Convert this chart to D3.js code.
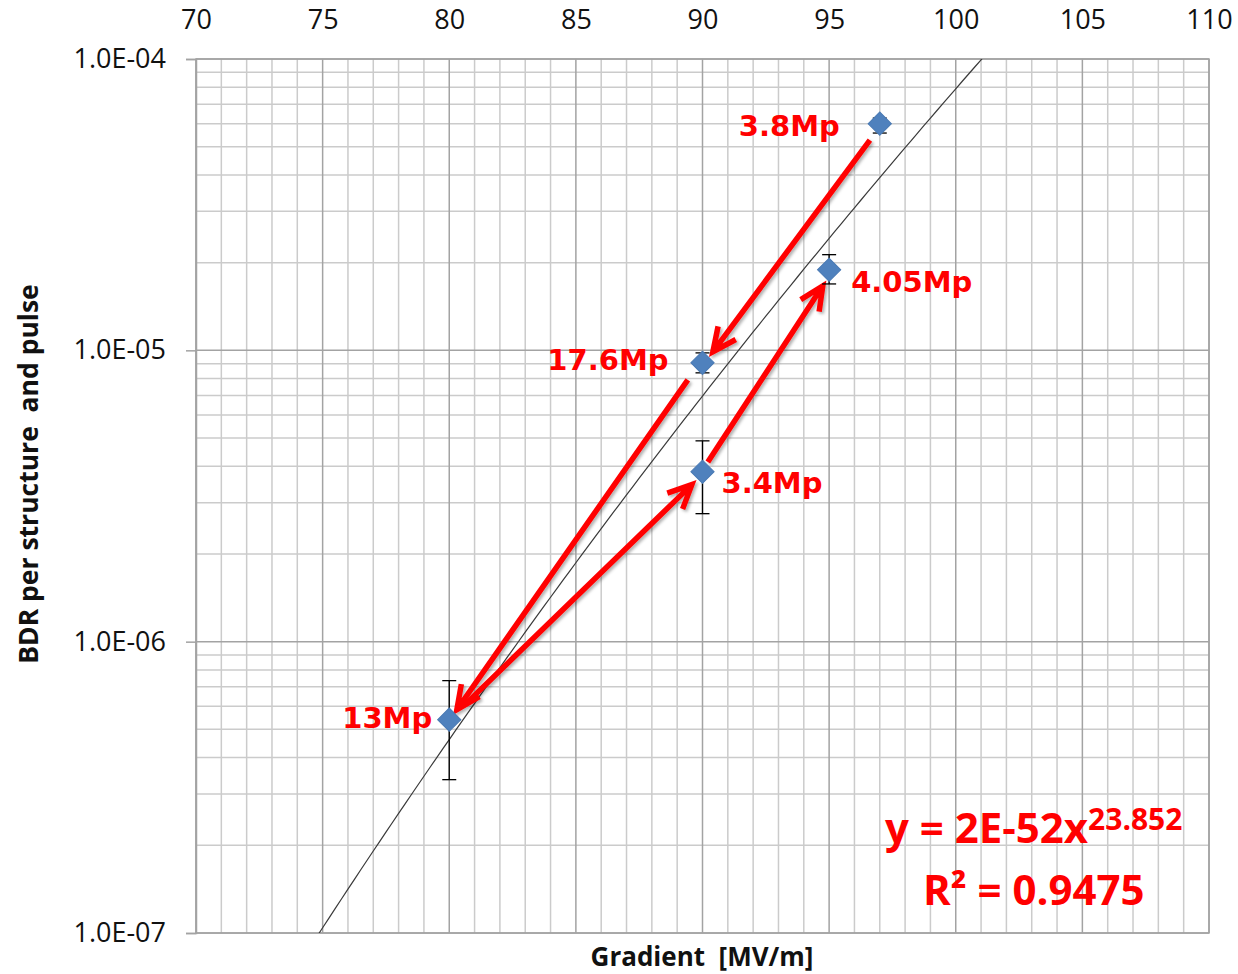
<!DOCTYPE html>
<html>
<head>
<meta charset="utf-8">
<script src="https://cdn.jsdelivr.net/npm/d3@7"></script>
<style>
  body { margin: 0; background: #fff; }
  svg { display: block; }
</style>
</head>
<body>
<svg id="chart" width="1238" height="974"></svg>
<script>
// Breakdown rate per structure and pulse vs accelerating gradient
const gradient    = [97, 95, 90, 90, 80];
const bdr         = [6.0e-5, 1.89e-5, 9.06e-6, 3.83e-6, 5.4e-7];
const bdrLow      = [5.57e-5, 1.69e-5, 8.37e-6, 2.75e-6, 3.36e-7];
const bdrHigh     = [6.27e-5, 2.13e-5, 9.8e-6, 4.89e-6, 7.35e-7];
const pulseLabels = ["3.8Mp", "4.05Mp", "17.6Mp", "3.4Mp", "13Mp"];

// Conditioning sequence arrows (gradient, BDR) from -> to
const arrowFromX = [96.61, 89.42, 80.62, 90.21];
const arrowFromY = [5.27e-5, 7.92e-6, 6.08e-7, 4.14e-6];
const arrowToX   = [90.41, 80.30, 89.58, 94.75];
const arrowToY   = [9.88e-6, 5.84e-7, 3.46e-6, 1.665e-5];

const xTicks      = [70, 75, 80, 85, 90, 95, 100, 105, 110];
const yTicks      = [1e-7, 1e-6, 1e-5, 1e-4];
const yTickLabels = ["1.0E-07", "1.0E-06", "1.0E-05", "1.0E-04"];

const fitEquation = "y = 2E-52x";
const fitExponent = "23.852";
const fitR2       = "R² = 0.9475";

const xTitle = "Gradient  [MV/m]";
const yTitle = "BDR per structure  and pulse";

// ---- layout ----
const plot = { left: 196, right: 1209, top: 59, bottom: 933 };
const svg = d3.select("#chart");

const x = d3.scaleLinear().domain([70, 110]).range([plot.left, plot.right]);
const y = d3.scaleLog().domain([1e-7, 1e-4]).range([plot.bottom, plot.top]);

svg.append("rect").attr("width", 1238).attr("height", 974).attr("fill", "#fff");

const defs = svg.append("defs");
defs.append("clipPath").attr("id", "plotClip")
  .append("rect")
  .attr("x", plot.left).attr("y", plot.top)
  .attr("width", plot.right - plot.left).attr("height", plot.bottom - plot.top);

const shadow = defs.append("filter").attr("id", "softShadow")
  .attr("x", "-20%").attr("y", "-20%").attr("width", "140%").attr("height", "140%");
shadow.append("feDropShadow")
  .attr("dx", 2).attr("dy", 2).attr("stdDeviation", 1.6)
  .attr("flood-color", "#000").attr("flood-opacity", 0.3);

// ---- grid ----
const grid = svg.append("g");
const minorX = d3.range(71, 110).filter(v => v % 5 !== 0);
const majorX = xTicks;
const minorY = [];
for (let e = -7; e < -4; e++) for (let m = 2; m <= 9; m++) minorY.push(m * Math.pow(10, e));

grid.selectAll("line.mx").data(minorX).join("line")
  .attr("x1", d => x(d)).attr("x2", d => x(d))
  .attr("y1", plot.top).attr("y2", plot.bottom)
  .attr("stroke", "#cbcbcb").attr("stroke-width", 1.5);
grid.selectAll("line.my").data(minorY).join("line")
  .attr("x1", plot.left).attr("x2", plot.right)
  .attr("y1", d => y(d)).attr("y2", d => y(d))
  .attr("stroke", "#cbcbcb").attr("stroke-width", 1.5);
grid.selectAll("line.Mx").data(majorX).join("line")
  .attr("x1", d => x(d)).attr("x2", d => x(d))
  .attr("y1", plot.top).attr("y2", plot.bottom)
  .attr("stroke", "#a3a3a3").attr("stroke-width", 1.5);
grid.selectAll("line.My").data(yTicks).join("line")
  .attr("x1", plot.left).attr("x2", plot.right)
  .attr("y1", d => y(d)).attr("y2", d => y(d))
  .attr("stroke", "#a3a3a3").attr("stroke-width", 1.5);

svg.append("rect")
  .attr("x", plot.left).attr("y", plot.top)
  .attr("width", plot.right - plot.left).attr("height", plot.bottom - plot.top)
  .attr("fill", "none").attr("stroke", "#a3a3a3").attr("stroke-width", 1.5);

// ---- axes ----
const xAxis = svg.append("g")
  .attr("transform", `translate(0,${plot.top})`)
  .call(d3.axisTop(x).tickValues(xTicks).tickSize(0).tickPadding(30).tickFormat(d3.format("d")));
xAxis.select(".domain").remove();
xAxis.selectAll("text")
  .attr("font-family", "'Open Sans', sans-serif").attr("font-size", 27).attr("fill", "#111");

const yAxis = svg.append("g")
  .attr("transform", `translate(${plot.left},0)`)
  .call(d3.axisLeft(y).tickValues(yTicks).tickSize(10).tickPadding(20)
    .tickFormat((d, i) => yTickLabels[i]));
yAxis.select(".domain").attr("stroke", "#a3a3a3").attr("stroke-width", 1.5);
yAxis.selectAll(".tick line").attr("stroke", "#a3a3a3").attr("stroke-width", 1.5);
yAxis.selectAll("text")
  .attr("font-family", "'Open Sans', sans-serif").attr("font-size", 27).attr("fill", "#111");

svg.append("text")
  .attr("x", 702).attr("y", 966).attr("text-anchor", "middle")
  .attr("font-family", "'Open Sans', sans-serif").attr("font-weight", 700)
  .attr("font-size", 26).attr("fill", "#111")
  .style("white-space", "pre").attr("xml:space", "preserve")
  .text(xTitle);

svg.append("text")
  .attr("transform", "translate(38,474) rotate(-90)")
  .attr("text-anchor", "middle")
  .attr("font-family", "'Open Sans', sans-serif").attr("font-weight", 700)
  .attr("font-size", 26.5).attr("fill", "#111")
  .style("white-space", "pre").attr("xml:space", "preserve")
  .text(yTitle);

// ---- power-law trend line (least squares in log-log space) ----
const lx = gradient.map(Math.log10), ly = bdr.map(Math.log10);
const mx = d3.mean(lx), my = d3.mean(ly);
const slope = d3.sum(lx, (v, i) => (v - mx) * (ly[i] - my)) / d3.sum(lx, v => (v - mx) ** 2);
const intercept = my - slope * mx;
const trend = d3.range(70, 110.001, 0.25).map(g => [g, Math.pow(10, intercept + slope * Math.log10(g))]);

svg.append("path")
  .datum(trend)
  .attr("clip-path", "url(#plotClip)")
  .attr("fill", "none").attr("stroke", "#3a3a3a").attr("stroke-width", 1.2)
  .attr("d", d3.line().x(d => x(d[0])).y(d => y(d[1])));

// ---- conditioning arrows ----
function arrowPath(x1, y1, x2, y2) {
  const a = Math.atan2(y2 - y1, x2 - x1);
  const L = 26, w = 25 * Math.PI / 180;
  const p1 = [x2 - L * Math.cos(a - w), y2 - L * Math.sin(a - w)];
  const p2 = [x2 - L * Math.cos(a + w), y2 - L * Math.sin(a + w)];
  return `M${x1},${y1}L${x2},${y2}M${p1[0]},${p1[1]}L${x2},${y2}L${p2[0]},${p2[1]}`;
}
svg.append("g").attr("filter", "url(#softShadow)")
  .selectAll("path").data(arrowFromX).join("path")
  .attr("d", (d, i) => arrowPath(x(arrowFromX[i]), y(arrowFromY[i]), x(arrowToX[i]), y(arrowToY[i])))
  .attr("fill", "none").attr("stroke", "#ff0000").attr("stroke-width", 5.5)
  .attr("stroke-linejoin", "miter").attr("stroke-linecap", "butt");

// ---- error bars ----
const capHalf = 7;
const eb = svg.append("g").attr("stroke", "#000").attr("stroke-width", 1.3);
eb.selectAll("line.v").data(gradient).join("line")
  .attr("x1", d => x(d)).attr("x2", d => x(d))
  .attr("y1", (d, i) => y(bdrLow[i])).attr("y2", (d, i) => y(bdrHigh[i]));
eb.selectAll("line.lo").data(gradient).join("line")
  .attr("x1", d => x(d) - capHalf).attr("x2", d => x(d) + capHalf)
  .attr("y1", (d, i) => y(bdrLow[i])).attr("y2", (d, i) => y(bdrLow[i]));
eb.selectAll("line.hi").data(gradient).join("line")
  .attr("x1", d => x(d) - capHalf).attr("x2", d => x(d) + capHalf)
  .attr("y1", (d, i) => y(bdrHigh[i])).attr("y2", (d, i) => y(bdrHigh[i]));

// ---- markers (diamonds) ----
const diamond = d3.symbol().type(d3.symbolSquare).size(270);
svg.append("g").selectAll("path").data(gradient).join("path")
  .attr("transform", (d, i) => `translate(${x(d)},${y(bdr[i])}) rotate(45)`)
  .attr("d", diamond)
  .attr("fill", "#4f81bd").attr("stroke", "#4a7ab4").attr("stroke-width", 1);

// ---- pulse-count labels ----
const labelOffsets = [
  { dx: -40, dy: 12, anchor: "end" },
  { dx: 22, dy: 22, anchor: "start" },
  { dx: -34, dy: 7, anchor: "end" },
  { dx: 19, dy: 21, anchor: "start" },
  { dx: -17, dy: 8, anchor: "end" }
];
svg.append("g").selectAll("text").data(pulseLabels).join("text")
  .attr("x", (d, i) => x(gradient[i]) + labelOffsets[i].dx)
  .attr("y", (d, i) => y(bdr[i]) + labelOffsets[i].dy)
  .attr("text-anchor", (d, i) => labelOffsets[i].anchor)
  .attr("font-family", "'DejaVu Sans', sans-serif").attr("font-weight", 700)
  .attr("font-size", 29).attr("fill", "#ff0000")
  .text(d => d);

// ---- fit equation ----
const eq = svg.append("text")
  .attr("font-family", "'Open Sans', sans-serif").attr("font-weight", 700)
  .attr("fill", "#ff0000");
eq.append("tspan").attr("x", 885).attr("y", 843).attr("font-size", 42).text(fitEquation);
eq.append("tspan").attr("dy", -13).attr("font-size", 30).text(fitExponent);

svg.append("text")
  .attr("x", 923).attr("y", 905)
  .attr("font-family", "'Open Sans', sans-serif").attr("font-weight", 700)
  .attr("font-size", 42).attr("fill", "#ff0000")
  .text(fitR2);
</script>
</body>
</html>
